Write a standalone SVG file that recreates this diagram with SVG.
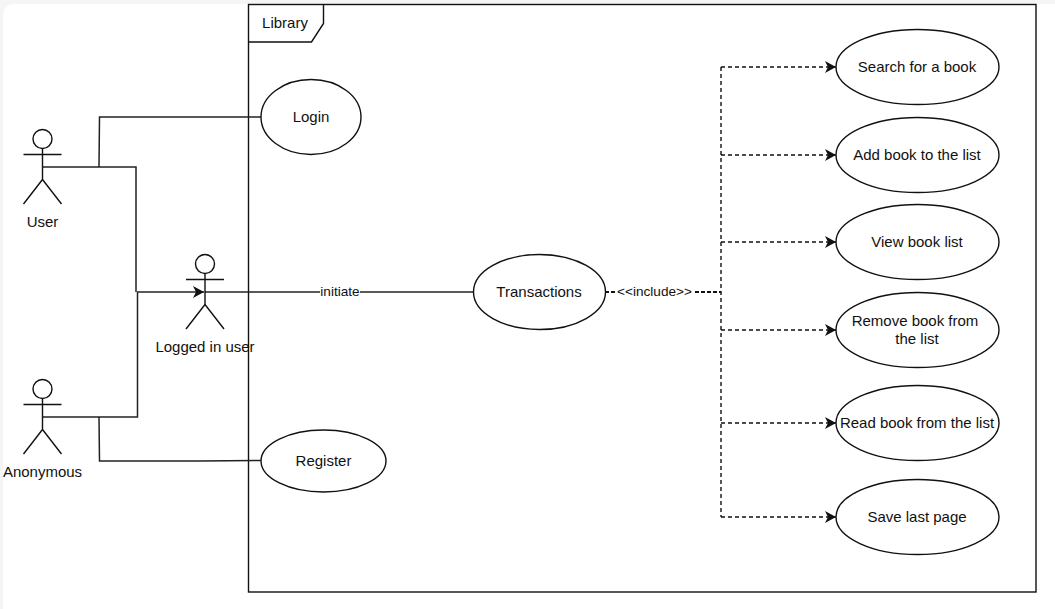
<svg xmlns="http://www.w3.org/2000/svg" width="1055" height="609" viewBox="0 0 1055 609">
<style>
text{font-family:"Liberation Sans",Arial,sans-serif;font-size:15px;fill:#111;text-anchor:middle}
text.l{font-size:13.600px}
.s{fill:none;stroke:#111;stroke-width:1.4}
.u{fill:#fff;stroke:#111;stroke-width:1.4}
.c{fill:none;stroke:#222;stroke-width:1.5}
.d{fill:none;stroke:#111;stroke-width:1.4;stroke-dasharray:4 3}
.b{fill:none;stroke:#111;stroke-width:2;stroke-dasharray:4 2}
</style>
<defs>
<marker id="arrow" markerUnits="userSpaceOnUse" markerWidth="13" markerHeight="13" refX="11" refY="6" orient="auto"><path d="M0,0 L11,6 L0,12 L3,6 Z" fill="#111"/></marker>
<g id="actor"><circle cx="0" cy="9.500" r="9.500" class="s"/><path class="s" d="M0,19V50M-19,25H19M0,50L-19,74.500M0,50L19,74.500"/></g>
</defs>
<rect width="1055" height="609" fill="#f5f5f5"/>
<path d="M3,609V14A10,10 0 0 1 13,4H1055V609Z" fill="#fff"/>
<g id="frame-library">
<rect x="248.500" y="4.500" width="787.500" height="587.500" class="s"/>
<path class="s" d="M248.500,42H311.500L323.500,23.500V4.500"/>
<text x="285" y="28">Library</text>
</g>
<g id="connectors">
<path class="c" d="M43,167H136V292M99,167L99.500,117H261"/>
<path class="c" d="M137,292H204" marker-end="url(#arrow)"/>
<path class="c" d="M43,417H137.500V292M99,417L99.500,461H200L261,460.500"/>
<path class="c" d="M205,292H473"/>
<path class="b" d="M605,292H721"/>
<path class="d" d="M721,67V517"/>
<path class="d" d="M721,67H836" marker-end="url(#arrow)"/>
<path class="d" d="M721,155H836" marker-end="url(#arrow)"/>
<path class="d" d="M721,242H836" marker-end="url(#arrow)"/>
<path class="d" d="M721,330H836" marker-end="url(#arrow)"/>
<path class="d" d="M721,423H836" marker-end="url(#arrow)"/>
<path class="d" d="M721,517H836" marker-end="url(#arrow)"/>
<rect x="320" y="284" width="40" height="15" fill="#fff"/>
<text class="l" x="340" y="296">initiate</text>
<rect x="616" y="284" width="77" height="15" fill="#fff"/>
<text class="l" x="654.500" y="296">&lt;&lt;include&gt;&gt;</text>
</g>
<g id="actor-user"><use href="#actor" x="42.500" y="129.500"/><text x="42.500" y="227">User</text></g>
<g id="actor-logged-in-user"><use href="#actor" x="205" y="254.500"/><text x="205" y="352">Logged in user</text></g>
<g id="actor-anonymous"><use href="#actor" x="42.500" y="379.500"/><text x="42.500" y="477">Anonymous</text></g>
<g id="uc-login"><ellipse cx="311" cy="117" rx="50" ry="37.500" class="u"/><text x="311" y="122">Login</text></g>
<g id="uc-register"><ellipse cx="323.500" cy="461" rx="62.500" ry="31" class="u"/><text x="323.500" y="466">Register</text></g>
<g id="uc-transactions"><ellipse cx="539.500" cy="292" rx="66" ry="37.500" class="u"/><text x="539" y="297">Transactions</text></g>
<g id="uc-search"><ellipse cx="917.500" cy="67" rx="81.500" ry="37.500" class="u"/><text x="917" y="72">Search for a book</text></g>
<g id="uc-add"><ellipse cx="917.500" cy="155" rx="81.500" ry="37.500" class="u"/><text x="917" y="160">Add book to the list</text></g>
<g id="uc-view"><ellipse cx="917.500" cy="242" rx="81.500" ry="37.500" class="u"/><text x="917" y="247">View book list</text></g>
<g id="uc-remove"><ellipse cx="917.500" cy="330" rx="81.500" ry="37.500" class="u"/><text x="915" y="326">Remove book from</text><text x="917" y="344">the list</text></g>
<g id="uc-read"><ellipse cx="917.500" cy="423" rx="81.500" ry="37.500" class="u"/><text x="917" y="428">Read book from the list</text></g>
<g id="uc-save"><ellipse cx="917.500" cy="517" rx="81.500" ry="37.500" class="u"/><text x="917" y="522">Save last page</text></g>
</svg>
